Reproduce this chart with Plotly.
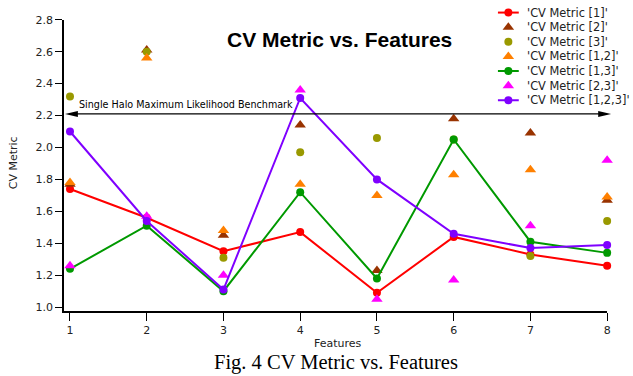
import plotly.graph_objects as go

# ---- data -------------------------------------------------------------
features = [1, 2, 3, 4, 5, 6, 7, 8]

cv_1 = [1.74, 1.56, 1.35, 1.47, 1.09, 1.44, 1.33, 1.26]
cv_2 = [1.77, 2.61, 1.45, 2.14, 1.23, 2.18, 2.09, 1.67]
cv_3 = [2.32, 2.60, 1.31, 1.97, 2.06, 2.05, 1.32, 1.54]
cv_12 = [1.78, 2.56, 1.48, 1.77, 1.70, 1.83, 1.86, 1.69]
cv_13 = [1.24, 1.51, 1.10, 1.72, 1.18, 2.05, 1.41, 1.34]
cv_23 = [1.26, 1.57, 1.20, 2.36, 1.05, 1.17, 1.51, 1.92]
cv_123 = [2.10, 1.54, 1.11, 2.31, 1.80, 1.46, 1.37, 1.39]

benchmark = 2.21
benchmark_label = "Single Halo Maximum Likelihood Benchmark"

y_ticks = [1.0, 1.2, 1.4, 1.6, 1.8, 2.0, 2.2, 2.4, 2.6, 2.8]

# ---- geometry ---------------------------------------------------------
W, H = 633, 376
ML, MB = 64, 65                # left / bottom margins (px)
PW, PH = W - ML, H - MB        # paper area (px)
AX_RIGHT, AX_TOP = 611, 14     # end of x axis, top of y axis (px)

X_RANGE = [0.922, 8.0]
Y_RANGE = [0.976, 2.8]
x_dom = [0, (AX_RIGHT - ML) / PW]
y_dom = [0, (PH - AX_TOP) / PH]


def px_x(px):
    return (px - ML) / PW


def px_y(py):
    return (PH - py) / PH


def val_y(v):
    return (v - Y_RANGE[0]) / (Y_RANGE[1] - Y_RANGE[0]) * y_dom[1]


FONT = "DejaVu Sans"
series = [
    ("'CV Metric [1]'", cv_1, "#FF0000", "lines+markers", "circle"),
    ("'CV Metric [2]'", cv_2, "#993300", "markers", "triangle-up"),
    ("'CV Metric [3]'", cv_3, "#999900", "markers", "circle"),
    ("'CV Metric [1,2]'", cv_12, "#FF8000", "markers", "triangle-up"),
    ("'CV Metric [1,3]'", cv_13, "#009900", "lines+markers", "circle"),
    ("'CV Metric [2,3]'", cv_23, "#FF00FF", "markers", "triangle-up"),
    ("'CV Metric [1,2,3]'", cv_123, "#7F00FF", "lines+markers", "circle"),
]

fig = go.Figure()

for name, vals, color, mode, symbol in series:
    size = 8 if symbol == "circle" else 10
    fig.add_trace(go.Scatter(
        x=features, y=vals, name=name, mode=mode,
        line=dict(color=color, width=2),
        marker=dict(color=color, size=size, symbol=symbol),
        showlegend=False, cliponaxis=False, xaxis="x", yaxis="y",
    ))

# ---- key (drawn on a pixel-scaled overlay axis pair) ------------------
KEY_X0, KEY_X1, KEY_TXT = 501, 522, 528
KEY_Y0, KEY_DY = 6.7, 14.9
annotations = []
for i, (name, vals, color, mode, symbol) in enumerate(series):
    ky = KEY_Y0 + i * KEY_DY
    size = 8 if symbol == "circle" else 10
    if "lines" in mode:
        fig.add_trace(go.Scatter(
            x=[KEY_X0, KEY_X1], y=[ky, ky], mode="lines",
            line=dict(color=color, width=2), showlegend=False,
            hoverinfo="skip", xaxis="x2", yaxis="y2", cliponaxis=False,
        ))
    fig.add_trace(go.Scatter(
        x=[(KEY_X0 + KEY_X1) / 2], y=[ky], mode="markers",
        marker=dict(color=color, size=size, symbol=symbol), showlegend=False,
        hoverinfo="skip", xaxis="x2", yaxis="y2", cliponaxis=False,
    ))
    annotations.append(dict(
        x=KEY_TXT, y=ky, xref="x2", yref="y2", text=name, showarrow=False,
        xanchor="left", yanchor="middle", font=dict(family=FONT, size=11.4, color="#222"),
    ))

# ---- benchmark double arrow ------------------------------------------
by = val_y(benchmark)
left_tip, right_tip = px_x(65), px_x(615)
head_len = 13 / PW
head_half = 3 / PH
shapes = [
    dict(type="line", xref="paper", yref="paper", x0=left_tip + head_len / 2,
         x1=right_tip - head_len / 2, y0=by, y1=by, line=dict(color="black", width=1.2)),
    dict(type="path", xref="paper", yref="paper", fillcolor="black", line=dict(width=0),
         path=f"M{right_tip},{by} L{right_tip - head_len},{by + head_half} "
              f"L{right_tip - head_len},{by - head_half} Z"),
    dict(type="path", xref="paper", yref="paper", fillcolor="black", line=dict(width=0),
         path=f"M{left_tip},{by} L{left_tip + head_len},{by + head_half} "
              f"L{left_tip + head_len},{by - head_half} Z"),
]
annotations.append(dict(
    x=px_x(77), y=by, xref="paper", yref="paper", yshift=9, text=benchmark_label,
    showarrow=False, xanchor="left", yanchor="middle",
    font=dict(family=FONT, size=9.6, color="black"),
))

# ---- titles -----------------------------------------------------------
annotations += [
    dict(x=px_x(341), y=px_y(34), xref="paper", yref="paper", text="<b>CV Metric vs. Features</b>",
         showarrow=False, xanchor="center", yanchor="middle",
         font=dict(family="Liberation Sans", size=21, color="black")),
    dict(x=px_x(14), y=px_y(160), xref="paper", yref="paper", text="CV Metric", textangle=-90,
         showarrow=False, xanchor="center", yanchor="middle",
         font=dict(family=FONT, size=11, color="#222")),
    dict(x=px_x(340), y=px_y(344), xref="paper", yref="paper", text="Features",
         showarrow=False, xanchor="center", yanchor="middle", borderpad=0,
         font=dict(family=FONT, size=11, color="#222")),
    dict(x=px_x(338), y=px_y(364), xref="paper", yref="paper", text="Fig. 4 CV Metric vs. Features",
         showarrow=False, xanchor="center", yanchor="middle", borderpad=0,
         font=dict(family="Liberation Serif", size=20.5, color="black")),
]

fig.update_layout(
    width=W, height=H,
    margin=dict(l=ML, r=0, t=0, b=MB, pad=0),
    paper_bgcolor="white", plot_bgcolor="rgba(0,0,0,0)",
    showlegend=False,
    xaxis=dict(domain=x_dom, range=X_RANGE, tickvals=features, ticks="outside", ticklen=8,
               tickwidth=1, tickcolor="black", showline=True, linecolor="black", linewidth=1.5,
               showgrid=False, zeroline=False, anchor="y",
               tickfont=dict(family=FONT, size=11, color="#222")),
    yaxis=dict(domain=y_dom, range=Y_RANGE, tickvals=y_ticks, tickformat=".1f", ticks="outside",
               ticklen=7, tickwidth=1, tickcolor="black", showline=True, linecolor="black",
               linewidth=1.5, showgrid=False, zeroline=False, anchor="x",
               tickfont=dict(family=FONT, size=11, color="#222")),
    xaxis2=dict(domain=[0, 1], range=[ML, W], visible=False, anchor="y2", fixedrange=True),
    yaxis2=dict(domain=[0, 1], range=[PH, 0], visible=False, anchor="x2", fixedrange=True),
    shapes=shapes,
    annotations=annotations,
)

fig.write_html("out.html")
